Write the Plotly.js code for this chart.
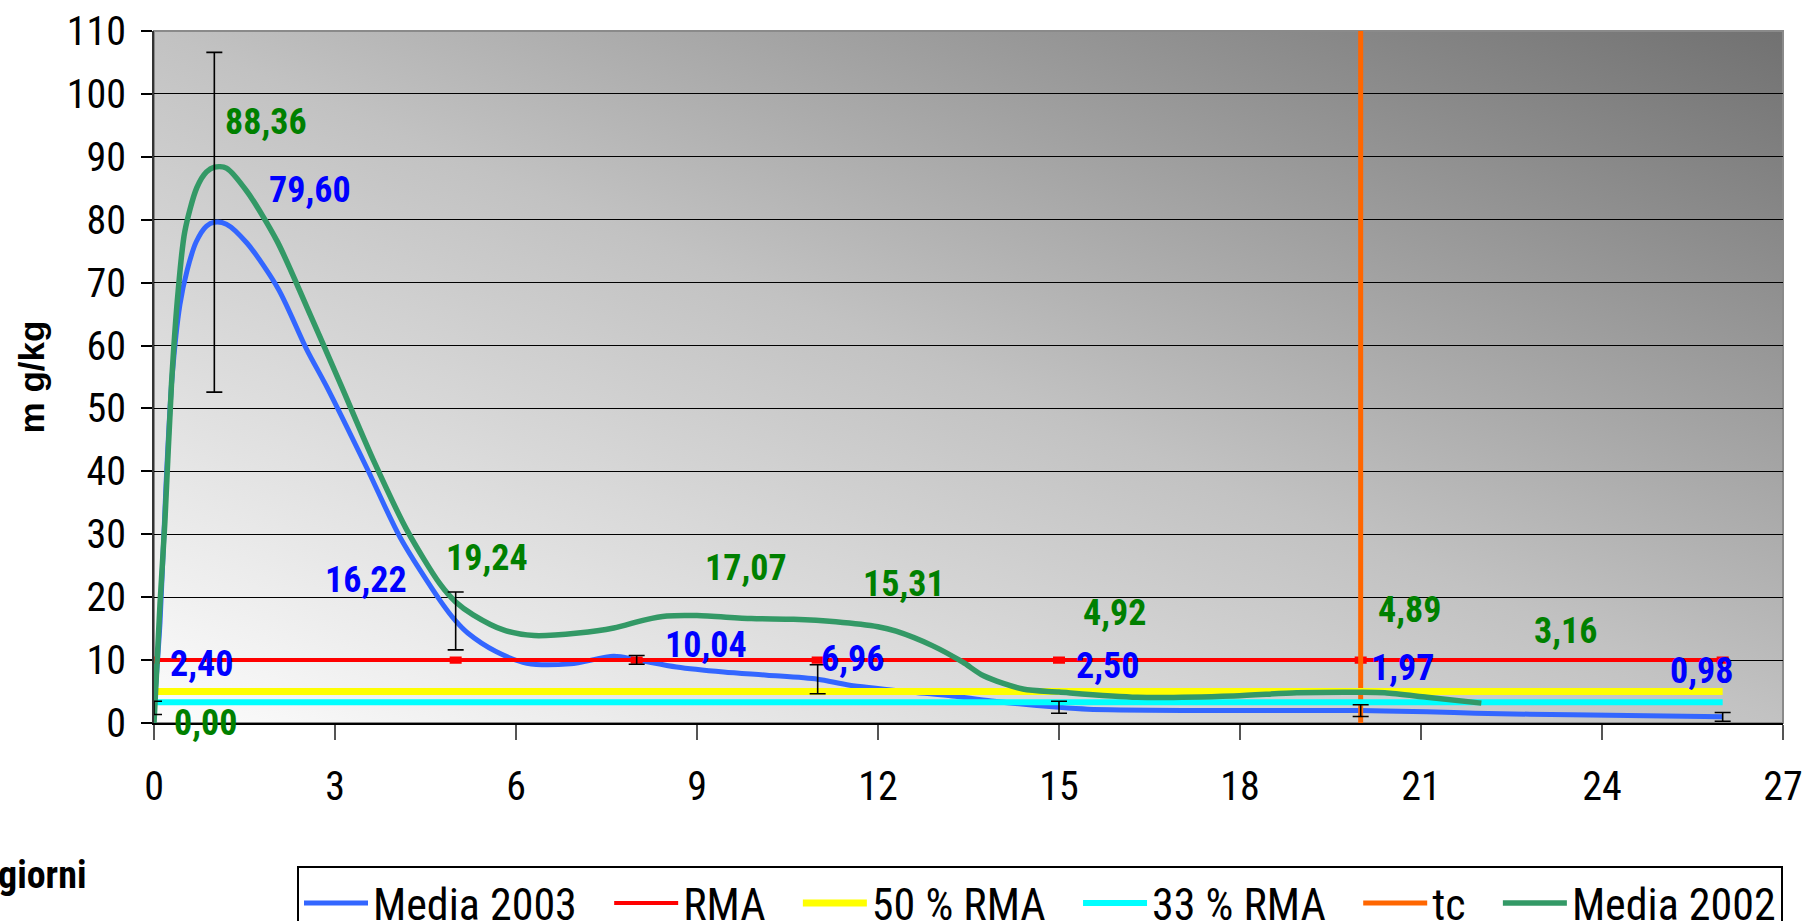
<!DOCTYPE html>
<html>
<head>
<meta charset="utf-8">
<script src="https://cdn.plot.ly/plotly-3.0.1.min.js"></script>
<style>
  html, body { margin: 0; padding: 0; background: #ffffff; }
  #wrap { width: 1805px; height: 921px; overflow: hidden; position: relative; }
  #chart { width: 1805px; height: 1000px; }
</style>
</head>
<body>
<div id="wrap"><div id="chart"></div></div>
<script>
// ---------------- DATA ----------------
// Media 2003 (blue curve): days and mg/kg
const days2003 = [0, 0.1, 0.2, 0.3, 0.43, 0.55, 0.7, 0.87, 1, 1.2, 1.54, 2.06, 2.53, 2.86, 3.53, 4.08, 4.74, 5, 5.2, 5.66, 6.18, 6.9, 7.62, 8, 8.66, 9.44, 10.16, 11, 11.53, 12.58, 13.23, 13.88, 15, 15.48, 17.1, 20, 21.1, 21.9, 23.5, 26];
const media2003 = [2.4, 16, 38, 55, 66.5, 72, 76.5, 79, 79.6, 79.3, 76.3, 69, 59.4, 53.5, 40.5, 29.5, 19.5, 16.22, 14.3, 11.4, 9.5, 9.4, 10.6, 10.04, 8.9, 8.1, 7.6, 6.96, 6.0, 4.9, 4.3, 3.5, 2.5, 2.2, 2.0, 1.97, 1.8, 1.55, 1.3, 0.98];

// Media 2002 (green curve)
const days2002 = [0, 0.1, 0.18, 0.29, 0.4, 0.51, 0.71, 0.87, 1, 1.2, 1.54, 2.04, 2.53, 3.09, 3.64, 4.19, 4.74, 5, 5.29, 5.79, 6.3, 7.03, 7.62, 8.14, 8.5, 9, 9.9, 10.6, 11.3, 12, 12.3, 12.9, 13.4, 13.75, 14.4, 15, 16.3, 17.9, 18.94, 20, 20.4, 21.1, 22];
const media2002 = [0, 19, 31.9, 53.9, 68.6, 78.1, 85.1, 87.6, 88.36, 88.2, 84.5, 76.6, 66.2, 53.9, 41.7, 30.7, 22.1, 19.24, 17.2, 14.8, 13.9, 14.3, 15.1, 16.4, 17.0, 17.07, 16.6, 16.5, 16.1, 15.31, 14.6, 12.3, 9.7, 7.5, 5.4, 4.92, 4.1, 4.3, 4.8, 4.89, 4.8, 4.1, 3.16];

// Error bars on Media 2003 (and its labelled points)
const errDays  = [0, 1, 5, 8, 11, 15, 20, 26];
const errMeans = [2.40, 79.60, 16.22, 10.04, 6.96, 2.50, 1.97, 0.98];
const errSd    = [1.05, 27, 4.6, 0.7, 2.3, 0.95, 0.93, 0.7];

// Labelled points of Media 2002
const greenLabelDays = [0, 1, 5, 9, 12, 15, 20, 22];
const greenLabelVals = [0.00, 88.36, 19.24, 17.07, 15.31, 4.92, 4.89, 3.16];

// Reference levels
const refDays = [0, 5, 8, 11, 15, 20, 26];
const rma    = [10, 10, 10, 10, 10, 10, 10];
const rmaErr = [0.35, 0.35, 0.35, 0.35, 0.35, 0.35, 0.35];
const levelDays = [0, 26];
const rma50 = [5, 5];
const rma33 = [3.3, 3.3];
const tcDays = [20, 20];
const tcVals = [0, 110];

// Series names and axis tick labels
const seriesNames = ['Media 2003', 'RMA', '50 % RMA', '33 % RMA', 'tc', 'Media 2002'];
const xTicks = [0, 3, 6, 9, 12, 15, 18, 21, 24, 27];
const yTicks = [0, 10, 20, 30, 40, 50, 60, 70, 80, 90, 100, 110];

// ---------------- STYLE ----------------
const NARROW = "'Roboto Condensed', 'DejaVu Sans Condensed', sans-serif";
const BOLDSANS = "'Liberation Sans', Arial, sans-serif";
const blueLabelShift  = [[47, 44], [96, 32], [-90, 41], [69, 15], [35, 20], [48, 41], [42, 43], [-21, 46]];
const greenLabelShift = [[51, 0], [52, 45], [31, 44], [49, 48], [26, 43], [55, 79], [49, 82], [84, 72]];
const PAD = '\u00A0\u00A0\u2006';   // legend spacing between entries

const fmt = v => v.toFixed(2).replace('.', ',');

const traces = [
  { x: days2003, y: media2003, name: seriesNames[0] + PAD, mode: 'lines',
    line: { color: '#3366FF', width: 5, shape: 'spline', smoothing: 0.8 }, legendrank: 1 },
  { x: refDays, y: rma, name: seriesNames[1] + PAD, mode: 'lines',
    line: { color: '#FF0000', width: 4 },
    error_y: { type: 'data', array: rmaErr, visible: true, color: '#FF0000', thickness: 3, width: 6 },
    legendrank: 2 },
  { x: tcDays, y: tcVals, name: seriesNames[4] + PAD, mode: 'lines',
    line: { color: '#FF6600', width: 5 }, legendrank: 5 },
  { x: levelDays, y: rma50, name: seriesNames[2] + PAD, mode: 'lines',
    line: { color: '#FFFF00', width: 7 }, legendrank: 3 },
  { x: levelDays, y: rma33, name: seriesNames[3] + PAD, mode: 'lines',
    line: { color: '#00FFFF', width: 6 }, legendrank: 4 },
  { x: days2002, y: media2002, name: seriesNames[5], mode: 'lines',
    line: { color: '#339966', width: 5.5, shape: 'spline', smoothing: 0.8 }, legendrank: 6 },
  { x: errDays, y: errMeans, name: 'dev. std.', mode: 'markers', showlegend: false,
    marker: { size: 1, opacity: 0 },
    error_y: { type: 'data', array: errSd, visible: true, color: '#000000', thickness: 1.6, width: 8 } }
];

const annotations = [];
errDays.forEach((d, i) => {
  annotations.push({ x: d, y: errMeans[i], xref: 'x', yref: 'y', text: '<b>' + fmt(errMeans[i]) + '</b>',
    showarrow: false, xanchor: 'center', yanchor: 'middle',
    xshift: blueLabelShift[i][0], yshift: blueLabelShift[i][1],
    font: { family: NARROW, size: 36, color: '#0000FF' } });
});
greenLabelDays.forEach((d, i) => {
  annotations.push({ x: d, y: greenLabelVals[i], xref: 'x', yref: 'y', text: '<b>' + fmt(greenLabelVals[i]) + '</b>',
    showarrow: false, xanchor: 'center', yanchor: 'middle',
    xshift: greenLabelShift[i][0], yshift: greenLabelShift[i][1],
    font: { family: NARROW, size: 36, color: '#008000' } });
});
annotations.push({ xref: 'paper', yref: 'paper', x: -0.0405, y: -0.2197, xanchor: 'right', yanchor: 'middle',
  text: '<b>giorni</b>', showarrow: false, font: { family: NARROW, size: 38, color: '#000000' } });

const bgSvg = "<svg xmlns='http://www.w3.org/2000/svg' width='100' height='100' preserveAspectRatio='none'>" +
  "<defs><linearGradient id='g' x1='0' y1='1' x2='1' y2='0'>" +
  "<stop offset='0' stop-color='#fcfcfc'/><stop offset='0.5' stop-color='#c2c2c2'/><stop offset='1' stop-color='#717171'/>" +
  "</linearGradient></defs><rect width='100' height='100' fill='url(#g)'/></svg>";

const layout = {
  width: 1805, height: 1000,
  margin: { l: 154, r: 22, t: 31, b: 277 },
  paper_bgcolor: '#ffffff',
  plot_bgcolor: 'rgba(0,0,0,0)',
  showlegend: true,
  font: { family: NARROW, color: '#000000' },
  xaxis: {
    range: [0, 27], tickmode: 'array', tickvals: xTicks, ticktext: xTicks.map(String),
    showgrid: false, zeroline: false, showline: true, linecolor: '#000000', linewidth: 2,
    ticks: 'outside', ticklen: 15, tickwidth: 1.5, tickcolor: '#555555',
    ticklabelstandoff: 12, ticklabeloverflow: 'allow',
    tickfont: { family: NARROW, size: 40, color: '#000000' }
  },
  yaxis: {
    range: [0, 110], tickmode: 'array', tickvals: yTicks, ticktext: yTicks.map(String),
    showgrid: true, gridcolor: '#000000', gridwidth: 1.2, zeroline: false,
    showline: true, linecolor: '#333333', linewidth: 2,
    ticks: 'outside', ticklen: 11, tickwidth: 1.5, tickcolor: '#000000',
    ticklabelstandoff: 7,
    tickfont: { family: NARROW, size: 40, color: '#000000' },
    title: { text: '<b>m g/kg</b>', standoff: 12, font: { family: BOLDSANS, size: 35, color: '#000000' } }
  },
  legend: {
    orientation: 'h', x: 1, y: -0.2066, xanchor: 'right', yanchor: 'top',
    bgcolor: '#ffffff', bordercolor: '#000000', borderwidth: 2,
    itemwidth: 64, traceorder: 'normal',
    font: { family: NARROW, size: 44, color: '#000000' }
  },
  images: [{
    source: 'data:image/svg+xml;charset=utf-8,' + encodeURIComponent(bgSvg),
    xref: 'paper', yref: 'paper', x: 0, y: 1, sizex: 1, sizey: 1,
    xanchor: 'left', yanchor: 'top', sizing: 'stretch', layer: 'below'
  }],
  shapes: [{
    type: 'rect', xref: 'paper', yref: 'paper', x0: 0, x1: 1, y0: 0, y1: 1,
    line: { color: '#8a8a8a', width: 2 }, fillcolor: 'rgba(0,0,0,0)', layer: 'below'
  }],
  annotations: annotations
};

Plotly.newPlot('chart', traces, layout, { displayModeBar: false, responsive: false });
</script>
</body>
</html>
